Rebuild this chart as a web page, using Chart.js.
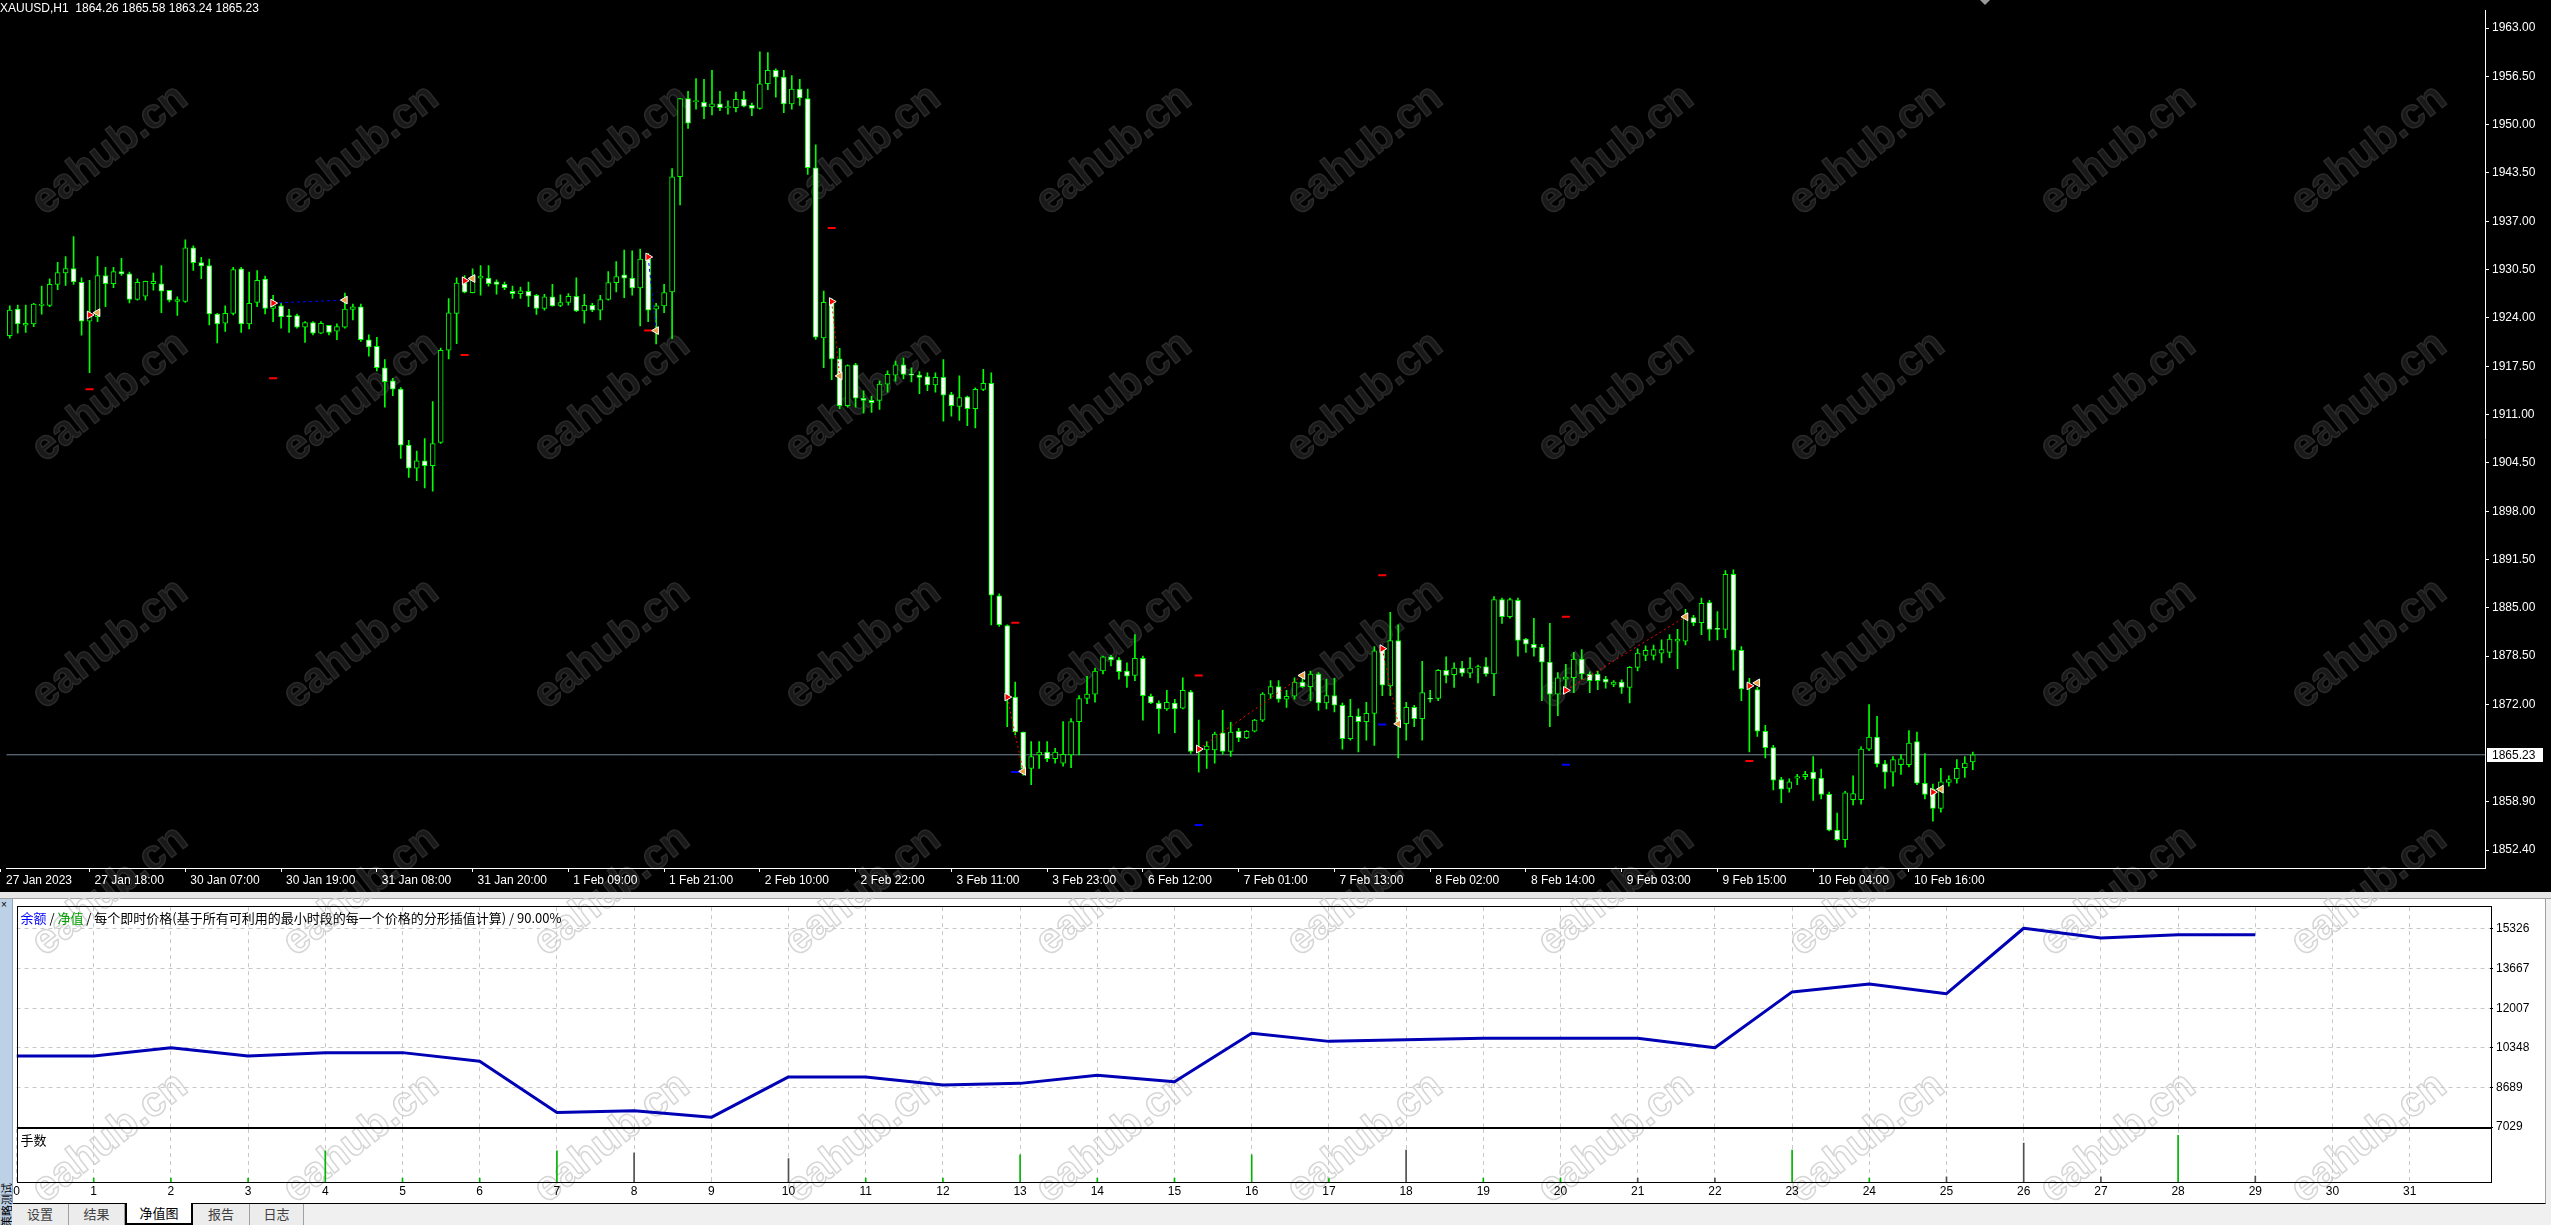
<!DOCTYPE html>
<html>
<head>
<meta charset="utf-8">
<title>XAUUSD,H1 净值图</title>
<script src="https://cdn.jsdelivr.net/npm/chart.js@4.4.0/dist/chart.umd.min.js"></script>
<style>
  html, body { margin: 0; padding: 0; }
  body { width: 2551px; height: 1225px; overflow: hidden; background: #f0f0f0; position: relative;
         font-family: "Liberation Sans", Arial, sans-serif; }
  canvas { position: absolute; left: 0; }
  #priceChart { top: 0; }
  #band { position: absolute; left: 0; top: 892px; width: 2551px; height: 6px; background: #e6e6e6; border-bottom: 1px solid #a0a0a0; }
  #panel { position: absolute; left: 13px; top: 899px; width: 2533px; height: 305px; background: #fff;
           border-bottom: 1px solid #000; border-right: 1px solid #a0a0a0; box-sizing: border-box; }
  #sidebar { position: absolute; left: 0; top: 899px; width: 13px; height: 326px; background: #bcd0e6;
             border-right: 1px solid #8fa7c2; box-sizing: border-box; overflow: hidden; }
  #sidebar .close { position: absolute; left: 1px; top: 0; font-size: 10px; color: #000; }
  #sidebar .name { position: absolute; left: -14px; top: 300px; width: 40px; transform: rotate(-90deg);
                   font: 11px "Noto Sans CJK SC"; color: #000; white-space: nowrap; }
  #equityChart { top: 897px; }
  #lotsChart { top: 1120px; }
  #tabs { position: absolute; left: 12px; top: 1204px; height: 21px; display: flex; }
  .tab { height: 21px; line-height: 20px; text-align: center; font: 13px "Noto Sans CJK SC", sans-serif; color: #404040;
         background: #ececec; border-right: 1px solid #a0a0a0; box-sizing: border-box; }
  .tab.on { background: #fff; color: #000; border-left: 2px solid #000; border-right: 2px solid #000;
            border-bottom: 2px solid #000; margin-top: -1px; height: 22px; }
</style>
</head>
<body>
<canvas id="priceChart" width="2551" height="892"></canvas>
<div id="band"></div>
<div id="panel"></div>
<div id="sidebar"><span class="close">×</span><span class="name">策略测试</span></div>
<canvas id="equityChart" width="2551" height="245"></canvas>
<canvas id="lotsChart" width="2551" height="83"></canvas>
<div id="tabs">
  <div class="tab" style="width:57px">设置</div>
  <div class="tab" style="width:56px">结果</div>
  <div class="tab on" style="width:68px">净值图</div>
  <div class="tab" style="width:57px">报告</div>
  <div class="tab" style="width:54px">日志</div>
</div>
<script>
// XAUUSD H1 bars, 27 Jan 2023 .. 10 Feb 2023
const symbolName = "XAUUSD,H1";

const openP = [
  1921.60, 1925.19, 1923.02, 1923.20, 1925.68, 1925.68, 1928.52, 1930.07, 1930.64, 1928.78,
  1923.55, 1924.17, 1929.71, 1928.60, 1930.24, 1929.93, 1926.48, 1926.92, 1928.60, 1928.60,
  1927.72, 1926.21, 1926.21, 1933.44, 1931.44, 1931.04, 1924.53, 1923.29, 1924.62, 1930.60,
  1923.20, 1926.08, 1929.23, 1925.28, 1925.63, 1924.31, 1924.31, 1922.75, 1923.38, 1921.96,
  1923.00, 1922.22, 1922.75, 1925.15, 1925.50, 1921.07, 1920.18, 1917.30, 1915.53, 1914.42,
  1906.88, 1903.78, 1904.76, 1904.14, 1907.24, 1919.65, 1924.62, 1928.69, 1927.41, 1929.36,
  1929.36, 1928.87, 1928.52, 1927.59, 1927.27, 1927.59, 1927.05, 1925.28, 1926.83, 1925.68,
  1926.08, 1926.92, 1924.93, 1925.68, 1925.06, 1926.48, 1928.74, 1929.80, 1929.36, 1928.03,
  1931.93, 1925.19, 1925.63, 1927.50, 1943.00, 1953.50, 1953.10, 1953.00, 1952.40, 1952.80,
  1952.30, 1952.30, 1953.40, 1952.60, 1952.20, 1955.50, 1957.30, 1956.40, 1952.80, 1954.80,
  1953.50, 1944.20, 1921.30, 1926.00, 1918.50, 1912.20, 1917.70, 1913.20, 1912.90, 1912.90,
  1915.10, 1916.30, 1917.70, 1916.40, 1916.30, 1916.10, 1915.00, 1916.00, 1913.70, 1912.10,
  1913.40, 1911.80, 1914.40, 1915.20, 1886.60, 1882.60, 1873.00, 1868.30, 1863.40, 1865.20,
  1865.60, 1864.70, 1864.10, 1865.20, 1869.70, 1872.80, 1873.40, 1876.50, 1878.40, 1878.00,
  1876.50, 1875.90, 1878.20, 1873.10, 1872.20, 1871.40, 1872.20, 1871.50, 1873.70, 1865.70,
  1865.90, 1865.90, 1868.20, 1865.70, 1868.40, 1867.50, 1868.40, 1869.90, 1873.40, 1874.40,
  1872.70, 1873.10, 1875.00, 1874.40, 1876.10, 1872.20, 1873.20, 1871.90, 1867.40, 1870.40,
  1869.70, 1870.80, 1879.40, 1874.50, 1880.60, 1869.40, 1871.60, 1870.10, 1872.80, 1872.80,
  1876.60, 1876.00, 1876.90, 1876.20, 1876.90, 1877.10, 1876.10, 1886.10, 1883.80, 1886.00,
  1880.80, 1880.10, 1879.70, 1877.70, 1873.40, 1875.40, 1875.60, 1878.10, 1876.10, 1876.10,
  1875.40, 1874.70, 1875.00, 1874.30, 1877.00, 1878.60, 1878.60, 1878.90, 1879.00, 1880.50,
  1880.50, 1883.70, 1883.00, 1885.70, 1882.20, 1882.10, 1889.50, 1879.30, 1874.70, 1874.00,
  1868.40, 1866.20, 1861.90, 1860.70, 1862.10, 1862.30, 1862.90, 1862.10, 1859.90, 1855.10,
  1853.80, 1859.20, 1859.20, 1866.00, 1867.60, 1864.00, 1862.90, 1863.90, 1863.90, 1867.00,
  1861.40, 1860.60, 1858.00, 1861.50, 1862.00, 1863.50, 1864.26
];
const highP = [
  1925.63, 1925.72, 1925.72, 1925.95, 1928.30, 1929.27, 1931.49, 1932.24, 1934.94, 1929.40,
  1929.05, 1932.24, 1930.82, 1930.82, 1932.02, 1930.16, 1929.27, 1928.96, 1930.02, 1931.04,
  1927.72, 1926.83, 1934.50, 1933.70, 1932.15, 1931.93, 1924.62, 1925.63, 1930.82, 1930.82,
  1930.16, 1930.38, 1929.62, 1927.05, 1925.95, 1925.15, 1924.53, 1923.50, 1923.50, 1923.50,
  1923.00, 1923.20, 1927.36, 1925.86, 1925.86, 1921.73, 1921.38, 1918.41, 1915.88, 1914.64,
  1907.55, 1906.09, 1907.77, 1912.74, 1919.96, 1926.61, 1929.40, 1929.71, 1930.60, 1931.04,
  1931.04, 1929.14, 1928.83, 1928.29, 1928.15, 1928.83, 1927.19, 1927.19, 1928.52, 1927.10,
  1927.27, 1929.40, 1927.19, 1925.95, 1927.05, 1930.24, 1931.57, 1933.13, 1933.04, 1933.26,
  1932.68, 1925.95, 1928.52, 1944.10, 1953.50, 1954.50, 1956.20, 1956.10, 1957.30, 1954.50,
  1953.20, 1954.40, 1954.50, 1952.90, 1959.80, 1959.70, 1957.50, 1957.30, 1956.60, 1956.10,
  1954.80, 1947.30, 1927.60, 1926.60, 1919.90, 1917.70, 1917.90, 1914.20, 1913.50, 1915.50,
  1916.90, 1918.20, 1918.60, 1917.30, 1916.80, 1916.60, 1916.60, 1918.40, 1914.00, 1916.20,
  1913.50, 1914.60, 1917.10, 1916.60, 1886.90, 1882.70, 1875.00, 1868.30, 1867.00, 1867.00,
  1867.00, 1866.10, 1869.70, 1870.10, 1873.20, 1875.80, 1876.90, 1878.50, 1878.60, 1878.30,
  1877.60, 1881.40, 1878.50, 1873.40, 1872.50, 1873.90, 1872.70, 1875.60, 1873.90, 1869.90,
  1867.00, 1868.30, 1871.20, 1869.60, 1868.80, 1868.50, 1870.00, 1873.60, 1875.20, 1875.20,
  1873.90, 1875.60, 1875.80, 1876.50, 1876.30, 1875.40, 1875.50, 1872.20, 1872.70, 1871.40,
  1872.30, 1879.80, 1879.80, 1884.40, 1882.70, 1872.30, 1871.90, 1877.80, 1873.90, 1876.70,
  1878.40, 1877.60, 1877.80, 1878.30, 1877.30, 1878.30, 1886.50, 1886.30, 1886.30, 1886.30,
  1880.90, 1883.60, 1880.10, 1882.90, 1876.30, 1877.40, 1879.00, 1879.40, 1876.40, 1876.50,
  1875.80, 1875.20, 1875.30, 1877.10, 1879.50, 1879.90, 1880.00, 1880.70, 1881.40, 1882.10,
  1884.80, 1884.00, 1886.30, 1886.00, 1884.50, 1890.00, 1890.10, 1879.80, 1875.50, 1874.30,
  1869.20, 1866.50, 1862.20, 1862.00, 1862.60, 1863.00, 1865.00, 1863.30, 1860.20, 1857.40,
  1860.30, 1862.40, 1866.30, 1872.00, 1870.40, 1864.50, 1865.00, 1865.30, 1868.50, 1868.30,
  1865.40, 1861.30, 1863.40, 1862.40, 1864.60, 1865.00, 1865.58
];
const lowP = [
  1921.29, 1921.96, 1922.04, 1922.84, 1924.50, 1925.50, 1927.81, 1928.38, 1928.52, 1921.69,
  1916.64, 1923.50, 1925.50, 1928.07, 1929.71, 1926.03, 1926.39, 1926.39, 1927.72, 1924.70,
  1926.17, 1924.35, 1926.08, 1930.38, 1929.27, 1923.06, 1920.63, 1922.18, 1924.39, 1922.04,
  1922.53, 1925.50, 1924.53, 1923.50, 1922.62, 1922.04, 1922.62, 1920.71, 1921.73, 1921.87,
  1921.73, 1921.07, 1922.62, 1923.73, 1920.85, 1918.85, 1916.86, 1911.98, 1913.53, 1905.11,
  1902.54, 1902.10, 1901.12, 1900.68, 1907.11, 1918.50, 1920.54, 1927.36, 1927.36, 1927.05,
  1928.29, 1927.19, 1927.81, 1926.61, 1926.61, 1925.50, 1924.48, 1925.06, 1925.59, 1925.50,
  1925.72, 1924.84, 1923.29, 1924.84, 1923.73, 1926.39, 1927.50, 1926.74, 1927.05, 1922.93,
  1923.50, 1920.49, 1924.70, 1921.20, 1939.20, 1949.50, 1952.10, 1950.80, 1951.30, 1951.90,
  1951.40, 1951.70, 1952.40, 1951.20, 1952.10, 1954.70, 1953.70, 1951.60, 1952.10, 1952.60,
  1943.30, 1921.10, 1917.30, 1915.70, 1911.80, 1912.00, 1912.00, 1911.20, 1911.30, 1911.70,
  1914.00, 1915.50, 1915.80, 1915.40, 1913.80, 1914.20, 1914.00, 1910.10, 1910.80, 1910.20,
  1909.50, 1909.20, 1914.20, 1882.70, 1882.50, 1869.00, 1867.90, 1862.50, 1861.20, 1863.40,
  1864.30, 1864.10, 1863.70, 1863.50, 1865.20, 1872.10, 1872.30, 1876.10, 1877.20, 1875.40,
  1874.30, 1875.20, 1869.90, 1872.10, 1868.10, 1871.20, 1868.20, 1871.40, 1865.40, 1862.90,
  1863.40, 1864.10, 1865.30, 1865.00, 1867.00, 1867.40, 1868.30, 1869.70, 1872.80, 1872.30,
  1871.60, 1872.70, 1874.30, 1872.50, 1871.20, 1871.40, 1871.00, 1866.00, 1867.20, 1865.60,
  1867.20, 1866.50, 1873.20, 1873.20, 1864.80, 1867.20, 1869.00, 1867.20, 1872.30, 1872.50,
  1874.90, 1874.30, 1875.80, 1875.60, 1874.90, 1875.80, 1873.20, 1882.90, 1883.60, 1878.50,
  1879.00, 1878.50, 1872.50, 1869.00, 1870.50, 1874.30, 1873.60, 1875.40, 1873.60, 1874.00,
  1874.20, 1874.40, 1873.50, 1872.20, 1876.50, 1877.90, 1878.00, 1877.60, 1878.30, 1876.80,
  1880.00, 1882.60, 1881.40, 1880.60, 1880.70, 1881.00, 1876.60, 1872.50, 1865.60, 1867.70,
  1864.80, 1860.50, 1858.80, 1860.20, 1861.20, 1861.90, 1859.10, 1859.30, 1855.00, 1853.70,
  1852.80, 1858.50, 1858.60, 1865.80, 1863.60, 1860.70, 1861.00, 1862.60, 1863.60, 1861.20,
  1859.30, 1856.30, 1857.50, 1861.00, 1861.40, 1862.20, 1863.24
];
const closeP = [
  1925.06, 1923.20, 1923.29, 1925.86, 1925.86, 1928.52, 1930.11, 1930.64, 1928.83, 1923.55,
  1924.17, 1929.71, 1928.60, 1930.24, 1929.93, 1926.48, 1928.78, 1928.92, 1928.92, 1927.59,
  1926.39, 1926.48, 1933.44, 1931.44, 1931.00, 1924.53, 1923.20, 1924.62, 1930.51, 1923.20,
  1925.95, 1929.05, 1925.28, 1925.63, 1924.17, 1924.17, 1922.75, 1923.38, 1921.96, 1923.29,
  1922.04, 1922.84, 1925.19, 1925.50, 1921.07, 1920.09, 1917.30, 1915.44, 1914.42, 1906.88,
  1903.78, 1904.76, 1904.14, 1907.11, 1919.65, 1924.70, 1928.69, 1927.45, 1929.58, 1929.62,
  1928.60, 1928.52, 1928.07, 1927.27, 1927.63, 1926.92, 1925.28, 1926.83, 1925.63, 1926.08,
  1926.92, 1924.93, 1925.68, 1925.06, 1926.48, 1928.74, 1929.58, 1929.36, 1928.03, 1931.93,
  1925.06, 1925.63, 1927.41, 1943.00, 1953.50, 1950.20, 1953.20, 1952.40, 1952.80, 1952.30,
  1952.40, 1953.40, 1952.50, 1952.20, 1955.50, 1957.30, 1956.40, 1952.80, 1954.80, 1953.60,
  1944.20, 1921.40, 1926.10, 1918.50, 1912.20, 1917.60, 1913.20, 1912.90, 1912.60, 1915.10,
  1916.40, 1917.70, 1916.40, 1916.30, 1916.00, 1915.00, 1916.00, 1913.60, 1912.20, 1913.30,
  1911.80, 1914.40, 1915.20, 1886.70, 1882.70, 1873.00, 1868.30, 1863.40, 1865.00, 1865.60,
  1864.70, 1865.60, 1865.30, 1869.70, 1872.80, 1873.40, 1876.50, 1878.40, 1878.00, 1876.40,
  1875.80, 1878.20, 1873.20, 1872.20, 1871.40, 1872.30, 1871.40, 1873.90, 1865.70, 1866.10,
  1866.40, 1868.00, 1865.70, 1868.30, 1867.50, 1868.40, 1869.90, 1873.40, 1874.40, 1872.70,
  1873.10, 1875.00, 1874.40, 1876.10, 1872.20, 1873.20, 1871.90, 1867.40, 1870.40, 1869.70,
  1870.80, 1879.20, 1874.60, 1880.60, 1869.40, 1871.60, 1870.10, 1873.60, 1872.70, 1876.60,
  1875.90, 1876.90, 1876.20, 1876.90, 1877.10, 1876.10, 1886.10, 1883.80, 1886.10, 1880.60,
  1880.10, 1879.60, 1877.70, 1873.40, 1875.60, 1875.70, 1878.10, 1876.10, 1875.20, 1875.20,
  1875.00, 1875.00, 1874.30, 1877.00, 1878.90, 1879.30, 1879.40, 1879.40, 1880.80, 1880.80,
  1883.80, 1883.00, 1885.60, 1882.10, 1882.10, 1889.50, 1879.30, 1874.10, 1874.30, 1868.40,
  1866.20, 1861.80, 1860.60, 1861.60, 1862.30, 1862.60, 1862.00, 1859.90, 1855.10, 1853.80,
  1860.10, 1860.00, 1866.00, 1867.60, 1864.00, 1862.90, 1864.60, 1864.70, 1866.80, 1861.40,
  1859.90, 1858.00, 1861.60, 1861.90, 1863.40, 1864.10, 1865.23
];

// time axis labels (bar index -> text)
const timeTickBars = [-1.1, 10, 22, 34, 46, 58, 70, 82, 94, 106, 118, 130, 142, 154, 166, 178, 190, 202, 214, 226, 238];
const timeTickLabels = ["27 Jan 2023", "27 Jan 18:00", "30 Jan 07:00", "30 Jan 19:00", "31 Jan 08:00", "31 Jan 20:00",
  "1 Feb 09:00", "1 Feb 21:00", "2 Feb 10:00", "2 Feb 22:00", "3 Feb 11:00", "3 Feb 23:00", "6 Feb 12:00",
  "7 Feb 01:00", "7 Feb 13:00", "8 Feb 02:00", "8 Feb 14:00", "9 Feb 03:00", "9 Feb 15:00", "10 Feb 04:00", "10 Feb 16:00"];

// price axis labels
const priceTickLabels = ["1963.00", "1956.50", "1950.00", "1943.50", "1937.00", "1930.50", "1924.00", "1917.50",
  "1911.00", "1904.50", "1898.00", "1891.50", "1885.00", "1878.50", "1872.00", "1858.90", "1852.40"];

// trades drawn on the price chart
const tradeOpenBar = [10, 33, 57, 80, 103, 125, 149, 172, 195, 218, 241];
const tradeOpenPrice = [1924.4, 1926.0, 1929.0, 1932.2, 1926.2, 1873.0, 1866.0, 1879.5, 1873.9, 1874.5, 1860.2];
const tradeCloseBar = [11, 42, 58, 81, 104, 127, 162, 174, 210, 219, 242];
const tradeClosePrice = [1924.7, 1926.4, 1929.3, 1922.3, 1916.2, 1863.0, 1875.9, 1869.4, 1883.8, 1874.9, 1860.6];
const tradeIsBuy = [true, true, true, true, false, false, false, false, false, false, false];
const stopLossBar = [10, 33, 57, 80, 103, 126, 149, 172, 195, 218];
const stopLossPrice = [1914.4, 1915.9, 1919.0, 1922.3, 1936.1, 1883.0, 1875.9, 1889.4, 1883.8, 1864.4];
const takeProfitBar = [126, 149, 172, 195];
const takeProfitPrice = [1862.9, 1855.8, 1869.3, 1863.9];

// tester equity graph
const testDays = [0, 1, 2, 3, 4, 5, 6, 7, 8, 9, 10, 11, 12, 13, 14, 15, 16, 17, 18, 19, 20, 21, 22, 23, 24, 25, 26, 27, 28, 29];
const balance = [10008, 10008, 10348, 10008, 10145, 10145, 9780, 7639, 7706, 7435, 9128, 9128, 8790, 8857, 9195,
  8925, 10956, 10617, 10685, 10752, 10752, 10752, 10348, 12690, 13020, 12615, 15356, 14950, 15085, 15085];
const equityTickLabels = ["7029", "8689", "10348", "12007", "13667", "15326"];
const dayTickLabels = ["0", "1", "2", "3", "4", "5", "6", "7", "8", "9", "10", "11", "12", "13", "14", "15",
  "16", "17", "18", "19", "20", "21", "22", "23", "24", "25", "26", "27", "28", "29", "30", "31"];
const lots = [0, 0.10, 0.10, 0.10, 0.80, 0.10, 0.10, 0.80, 0.75, 0, 0.60, 0.10, 0.10, 0.70, 0.10,
  0.10, 0.70, 0.09, 0.82, 0.10, 0.10, 0.10, 0.10, 0.82, 0.10, 0.13, 1.00, 0.13, 1.20, 0.15];
const lotsFromBuy = [true, true, true, true, true, true, true, true, false, false, false, true, true, true, true,
  true, true, true, false, true, true, false, false, true, true, false, false, false, true, false];

const titleParts = [["余额", "#0000ff"], [" / ", "#000000"], ["净值", "#00a000"],
  [" / 每个即时价格(基于所有可利用的最小时段的每一个价格的分形插值计算) / 90.00%", "#000000"]];

Chart.defaults.font.family = '"Liberation Sans", Arial, sans-serif';
Chart.defaults.font.size = 12;

const LIME = "#00ff00";
const xMin = -0.4375, xMax = xMin + 2485 / 8;
const lastBar = closeP.length - 1;
const lastClose = closeP[lastBar];

// page-level watermark grid
const wmX = [110, 361, 612, 863, 1114, 1365, 1616, 1867, 2118, 2369];
const wmY = [150, 397, 644, 891, 1138];
function drawWatermarks(ctx, pageTop, fill, stroke) {
  ctx.save();
  ctx.font = 'bold 42px "Liberation Sans", Arial, sans-serif';
  ctx.textAlign = "center";
  ctx.textBaseline = "middle";
  ctx.lineWidth = 1.5;
  wmY.forEach(y => wmX.forEach(x => {
    ctx.save();
    ctx.translate(x, y - pageTop);
    ctx.rotate(-38 * Math.PI / 180);
    if (fill) { ctx.fillStyle = fill; ctx.fillText("eahub.cn", 0, 0); }
    ctx.strokeStyle = stroke;
    ctx.strokeText("eahub.cn", 0, 0);
    ctx.restore();
  }));
  ctx.restore();
}

const terminalLook = {
  id: "terminalLook",
  beforeDraw(chart) {
    const ctx = chart.ctx;
    ctx.save();
    ctx.fillStyle = "#000";
    ctx.fillRect(0, 0, chart.width, chart.height);
    ctx.restore();
    drawWatermarks(ctx, 0, "#191919", "#2a2a2a");
  },
  afterDraw(chart) {
    const ctx = chart.ctx;
    const y = chart.scales.y;
    ctx.save();
    // header
    ctx.font = '12px "Liberation Sans", Arial, sans-serif';
    ctx.fillStyle = "#fff";
    ctx.textBaseline = "middle";
    const f = v => v.toFixed(2);
    ctx.fillText(symbolName + "  " + f(openP[lastBar]) + " " + f(highP[lastBar]) + " " + f(lowP[lastBar]) + " " + f(lastClose), 0, 9);
    // bid label on the price axis
    const py = Math.round(y.getPixelForValue(lastClose));
    ctx.fillRect(2487, py - 7, 56, 14);
    ctx.fillStyle = "#000";
    ctx.fillText(f(lastClose), 2492, py + 0.5);
    // chart shift marker
    ctx.fillStyle = "#9a9a9a";
    ctx.beginPath();
    ctx.moveTo(1980, 0); ctx.lineTo(1990, 0); ctx.lineTo(1985, 5); ctx.closePath();
    ctx.fill();
    ctx.restore();
  }
};

const bodyData = openP.map((o, i) => ({ x: i, y: [o, closeP[i]] }));
const wickData = highP.map((h, i) => ({ x: i, y: [lowP[i], h] }));

const tradeLine = buy => tradeOpenBar.flatMap((b, i) => tradeIsBuy[i] !== buy ? [] : [
  { x: b, y: tradeOpenPrice[i] }, { x: tradeCloseBar[i], y: tradeClosePrice[i] }, { x: tradeCloseBar[i], y: null }]);

new Chart(document.getElementById("priceChart"), {
  type: "bar",
  data: {
    datasets: [
      { type: "line", order: 0, data: tradeOpenBar.map((b, i) => ({ x: b, y: tradeOpenPrice[i] })), showLine: false,
        pointStyle: "triangle", rotation: 90, pointRadius: 4.5, pointBackgroundColor: "#ff0000", pointBorderColor: "#fff", pointBorderWidth: 1 },
      { type: "line", order: 0, data: tradeCloseBar.map((b, i) => ({ x: b, y: tradeClosePrice[i] })), showLine: false,
        pointStyle: "triangle", rotation: -90, pointRadius: 4.5, pointBackgroundColor: "#e8a040", pointBorderColor: "#fff", pointBorderWidth: 1 },
      { type: "line", order: 0, data: stopLossBar.map((b, i) => ({ x: b, y: stopLossPrice[i] })), showLine: false,
        pointStyle: "line", pointRadius: 4, pointBorderColor: "#ff0000", pointBorderWidth: 2 },
      { type: "line", order: 0, data: takeProfitBar.map((b, i) => ({ x: b, y: takeProfitPrice[i] })), showLine: false,
        pointStyle: "line", pointRadius: 4, pointBorderColor: "#0000ff", pointBorderWidth: 2 },
      { type: "line", order: 1, data: tradeLine(true), borderColor: "#0000ff", borderWidth: 1, borderDash: [3, 3],
        pointRadius: 0, spanGaps: false },
      { type: "line", order: 1, data: tradeLine(false), borderColor: "#ff0000", borderWidth: 1, borderDash: [2, 3],
        pointRadius: 0, spanGaps: false },
      { order: 2, data: bodyData, grouped: false, barThickness: 5, minBarLength: 1, borderSkipped: false,
        borderWidth: 1, borderColor: LIME,
        backgroundColor: ctx => closeP[ctx.dataIndex] >= openP[ctx.dataIndex] ? "#000" : "#fff" },
      { order: 3, data: wickData, grouped: false, barThickness: 1, minBarLength: 1, backgroundColor: LIME, borderWidth: 0 },
      { type: "line", order: 4, data: [{ x: xMin, y: lastClose }, { x: xMax, y: lastClose }],
        borderColor: "#778899", borderWidth: 1, pointRadius: 0 }
    ]
  },
  options: {
    responsive: false, animation: false, devicePixelRatio: 1,
    layout: { padding: 0 },
    plugins: { legend: { display: false }, tooltip: { enabled: false } },
    scales: {
      x: {
        type: "linear", min: xMin, max: xMax, offset: false,
        afterBuildTicks: s => { s.ticks = timeTickBars.map(v => ({ value: v })); },
        afterFit: s => { s.height = 24; },
        ticks: { color: "#fff", align: "start", labelOffset: 5, padding: 1, autoSkip: false, maxRotation: 0, minRotation: 0,
                 callback: v => timeTickLabels[timeTickBars.indexOf(v)] },
        grid: { drawOnChartArea: false, offset: false, tickLength: 4, color: "#fff" },
        border: { color: "#fff", width: 1 }
      },
      y: {
        position: "right", min: 1850.0, max: 1965.4, bounds: "data",
        afterBuildTicks: s => { s.ticks = priceTickLabels.map(t => ({ value: parseFloat(t) })); },
        afterFit: s => { s.width = 66; },
        ticks: { color: "#fff", padding: 3, autoSkip: false,
                 callback: v => priceTickLabels.find(t => parseFloat(t) === v) },
        grid: { drawOnChartArea: false, tickLength: 4, color: "#fff" },
        border: { color: "#fff", width: 1 }
      }
    }
  },
  plugins: [terminalLook]
});

// tester panel: balance graph
const eqTop = 897;
const plotBox = {
  id: "plotBox",
  beforeDraw(chart, args, opts) {
    const ctx = chart.ctx;
    ctx.save();
    ctx.beginPath();
    ctx.rect(0, opts.clipTop, chart.width, opts.clipBottom - opts.clipTop);
    ctx.clip();
    drawWatermarks(ctx, opts.pageTop, null, "#d6d6d6");
    ctx.restore();
  },
  afterDraw(chart, args, opts) {
    const { ctx, chartArea: a } = chart;
    ctx.save();
    ctx.strokeStyle = "#000";
    ctx.lineWidth = 1;
    ctx.strokeRect(Math.round(a.left) + 0.5, Math.round(a.top) - 0.5, Math.round(a.right - a.left), Math.round(a.bottom - a.top) + 1);
    ctx.textBaseline = "middle";
    ctx.font = '13px "Noto Sans CJK SC", "Liberation Sans", sans-serif';
    let x = a.left + 4;
    opts.title.forEach(([text, color]) => {
      ctx.fillStyle = color;
      ctx.fillText(text, x, a.top + 11);
      x += ctx.measureText(text).width;
    });
    ctx.restore();
  }
};

const eqMin = 7029, eqStep = 1659.4, eqMax = 7029 + eqStep * 222 / 40;
const dayMax = (2490 - 16.5) / 77.2;

new Chart(document.getElementById("equityChart"), {
  type: "line",
  data: {
    datasets: [{ data: testDays.map((d, i) => ({ x: d, y: balance[i] })), borderColor: "#0000b4", borderWidth: 3,
                 pointRadius: 0, tension: 0, borderJoinStyle: "round" }]
  },
  options: {
    responsive: false, animation: false, devicePixelRatio: 1,
    layout: { padding: { left: 16.5, top: 8, bottom: 15, right: 0 } },
    plugins: {
      legend: { display: false }, tooltip: { enabled: false },
      plotBox: { pageTop: eqTop, clipTop: 0, clipBottom: 231, title: titleParts }
    },
    scales: {
      x: {
        type: "linear", min: 0, max: dayMax,
        afterBuildTicks: s => { s.ticks = dayTickLabels.slice(1).map(t => ({ value: +t })); },
        afterFit: s => { s.height = 0; },
        ticks: { display: false },
        grid: { color: "#c8c8c8", drawTicks: false },
        border: { display: false, dash: [4, 4] }
      },
      y: {
        position: "right", min: eqMin, max: eqMax, bounds: "data",
        afterBuildTicks: s => { s.ticks = equityTickLabels.map(t => ({ value: +t })); },
        afterFit: s => { s.width = 61; },
        ticks: { color: "#000", padding: 3, autoSkip: false, callback: v => String(v) },
        grid: { color: "#c8c8c8", tickLength: 3, tickColor: "#000" },
        border: { display: false, dash: [4, 4] }
      }
    }
  },
  plugins: [plotBox]
});

// tester panel: lots
new Chart(document.getElementById("lotsChart"), {
  type: "bar",
  data: {
    datasets: [{ data: testDays.map((d, i) => ({ x: d, y: lots[i] })), barThickness: 1, grouped: false,
                 backgroundColor: lotsFromBuy.map(b => b ? "#00b400" : "#505050") }]
  },
  options: {
    responsive: false, animation: false, devicePixelRatio: 1,
    layout: { padding: { left: 16.5, top: 9, bottom: 0, right: 61 } },
    plugins: {
      legend: { display: false }, tooltip: { enabled: false },
      plotBox: { pageTop: 1120, clipTop: 8, clipBottom: 83, title: [["手数", "#000000"]] }
    },
    scales: {
      x: {
        type: "linear", min: 0, max: dayMax, offset: false,
        afterBuildTicks: s => { s.ticks = dayTickLabels.map(t => ({ value: +t })); },
        afterFit: s => { s.height = 21; },
        ticks: { color: "#000", padding: 2, autoSkip: false, maxRotation: 0, callback: v => dayTickLabels[v] },
        grid: { color: "#c8c8c8", drawTicks: false, offset: false },
        border: { display: false, dash: [4, 4] }
      },
      y: { display: false, min: 0, max: 1.36 }
    }
  },
  plugins: [plotBox]
});
</script>
</body>
</html>
